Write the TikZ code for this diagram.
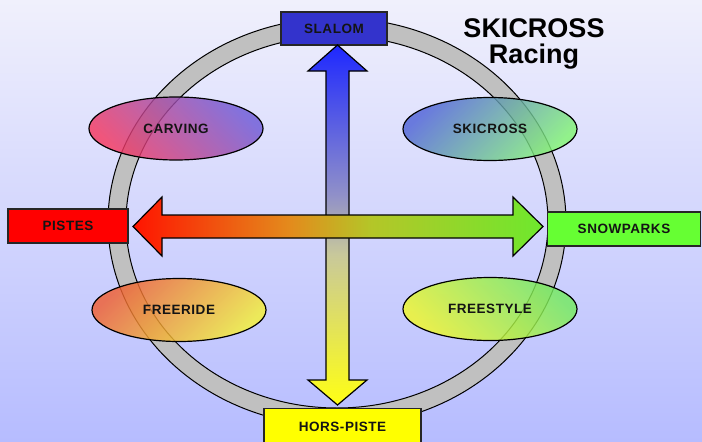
\documentclass[tikz,border=0pt]{standalone}
\usepackage{fontspec}
\setmainfont{Liberation Sans}
\newfontfamily\lblfont[LetterSpace=4]{Liberation Sans}
\usetikzlibrary{shapes.geometric}
\definecolor{bgtop}{RGB}{240,240,252}
\definecolor{bgbot}{RGB}{182,188,255}
\definecolor{ringgray}{RGB}{192,192,192}
\definecolor{slalomblue}{RGB}{51,51,204}
\definecolor{pistesred}{RGB}{255,0,0}
\definecolor{snowgreen}{RGB}{102,255,51}
\definecolor{horsyellow}{RGB}{255,255,0}
\definecolor{txt}{RGB}{20,20,20}
\definecolor{hleft}{RGB}{255,20,0}
\definecolor{hor}{RGB}{228,138,28}
\definecolor{hyg}{RGB}{180,198,40}
\definecolor{hright}{RGB}{110,232,45}
\definecolor{vtop}{RGB}{30,40,255}
\definecolor{vlav}{RGB}{145,145,200}
\definecolor{vkhaki}{RGB}{200,200,155}
\definecolor{vbot}{RGB}{255,255,20}
\definecolor{carvA}{RGB}{110,90,215}
\definecolor{carvB}{RGB}{245,55,95}
\definecolor{skiA}{RGB}{80,100,215}
\definecolor{skiB}{RGB}{130,245,115}
\definecolor{frA}{RGB}{240,95,50}
\definecolor{frB}{RGB}{245,240,55}
\definecolor{fsA}{RGB}{115,235,95}
\definecolor{fsB}{RGB}{240,248,40}
\pgfdeclarehorizontalshading{harrowshade}{100bp}{color(0bp)=(hleft); color(25bp)=(hleft); color(44bp)=(hor); color(54bp)=(hyg); color(75bp)=(hright); color(100bp)=(hright)}
\pgfdeclareverticalshading{varrowshade}{100bp}{color(0bp)=(vbot); color(25bp)=(vbot); color(46bp)=(vkhaki); color(54bp)=(vlav); color(75bp)=(vtop); color(100bp)=(vtop)}
\tikzset{
  lbl/.style={font=\lblfont\bfseries\fontsize{13.5}{15}\selectfont, text=txt},
  boxnode/.style={lbl, draw=black!85, line width=1.2pt, rectangle, inner sep=0pt},
  oval/.style={lbl, ellipse, draw=black, line width=1.2pt, inner sep=0pt,
    minimum width=174pt, minimum height=63pt, fill opacity=0.82, text opacity=1},
  titletext/.style={font=\bfseries\fontsize{27}{30}\selectfont, text=black, anchor=base, inner sep=0pt}
}
\begin{document}
\begin{tikzpicture}[x=1pt,y=-1pt]
\useasboundingbox (0,0) rectangle (702,442);
% background
\shade[top color=bgtop, bottom color=bgbot] (0,0) rectangle (702,442);
% ring
\coordinate (c) at (337,222);
\draw[fill=ringgray, even odd rule, line width=1pt]
  (c) ellipse [x radius=229, y radius=204]
  (c) ellipse [x radius=211, y radius=186];
% boxes
\node[boxnode, fill=slalomblue, minimum width=106pt, minimum height=33pt] (slalom) at (334,28.5) {SLALOM};
\node[boxnode, fill=pistesred, minimum width=120pt, minimum height=34pt] (pistes) at (68,226) {PISTES};
\node[boxnode, fill=snowgreen, minimum width=153pt, minimum height=34pt] (snow) at (624,229) {SNOWPARKS};
\node[boxnode, fill=horsyellow, minimum width=157pt, minimum height=40pt, anchor=north] (hors) at (342.5,408) {\raisebox{4pt}{HORS-PISTE}};
% vertical double arrow
\shade[shading=varrowshade, draw=black, line width=1.2pt, line join=miter]
  (337.5,45) -- (367,71) -- (349,71) -- (349,380) -- (367,380) -- (337.5,405)
  -- (308,380) -- (326,380) -- (326,71) -- (308,71) -- cycle;
% horizontal double arrow
\shade[shading=harrowshade, draw=black, line width=1.2pt, line join=miter]
  (133,226.5) -- (162,197) -- (162,215) -- (513,215) -- (513,197) -- (543,226.5)
  -- (513,256) -- (513,238) -- (162,238) -- (162,256) -- cycle;
% ellipses
\node[oval, top color=carvA, bottom color=carvB, shading angle=-45] (carving) at (176,128.5) {CARVING};
\node[oval, top color=skiA, bottom color=skiB, shading angle=45] (skicross) at (490,129) {SKICROSS};
\node[oval, top color=frA, bottom color=frB, shading angle=45] (freeride) at (179,310) {FREERIDE};
\node[oval, top color=fsA, bottom color=fsB, shading angle=-45] (freestyle) at (490,309) {FREESTYLE};
% title
\node[titletext] (t1) at (534,37) {SKICROSS};
\node[titletext] (t2) at (534,63) {Racing};
\end{tikzpicture}
\end{document}
